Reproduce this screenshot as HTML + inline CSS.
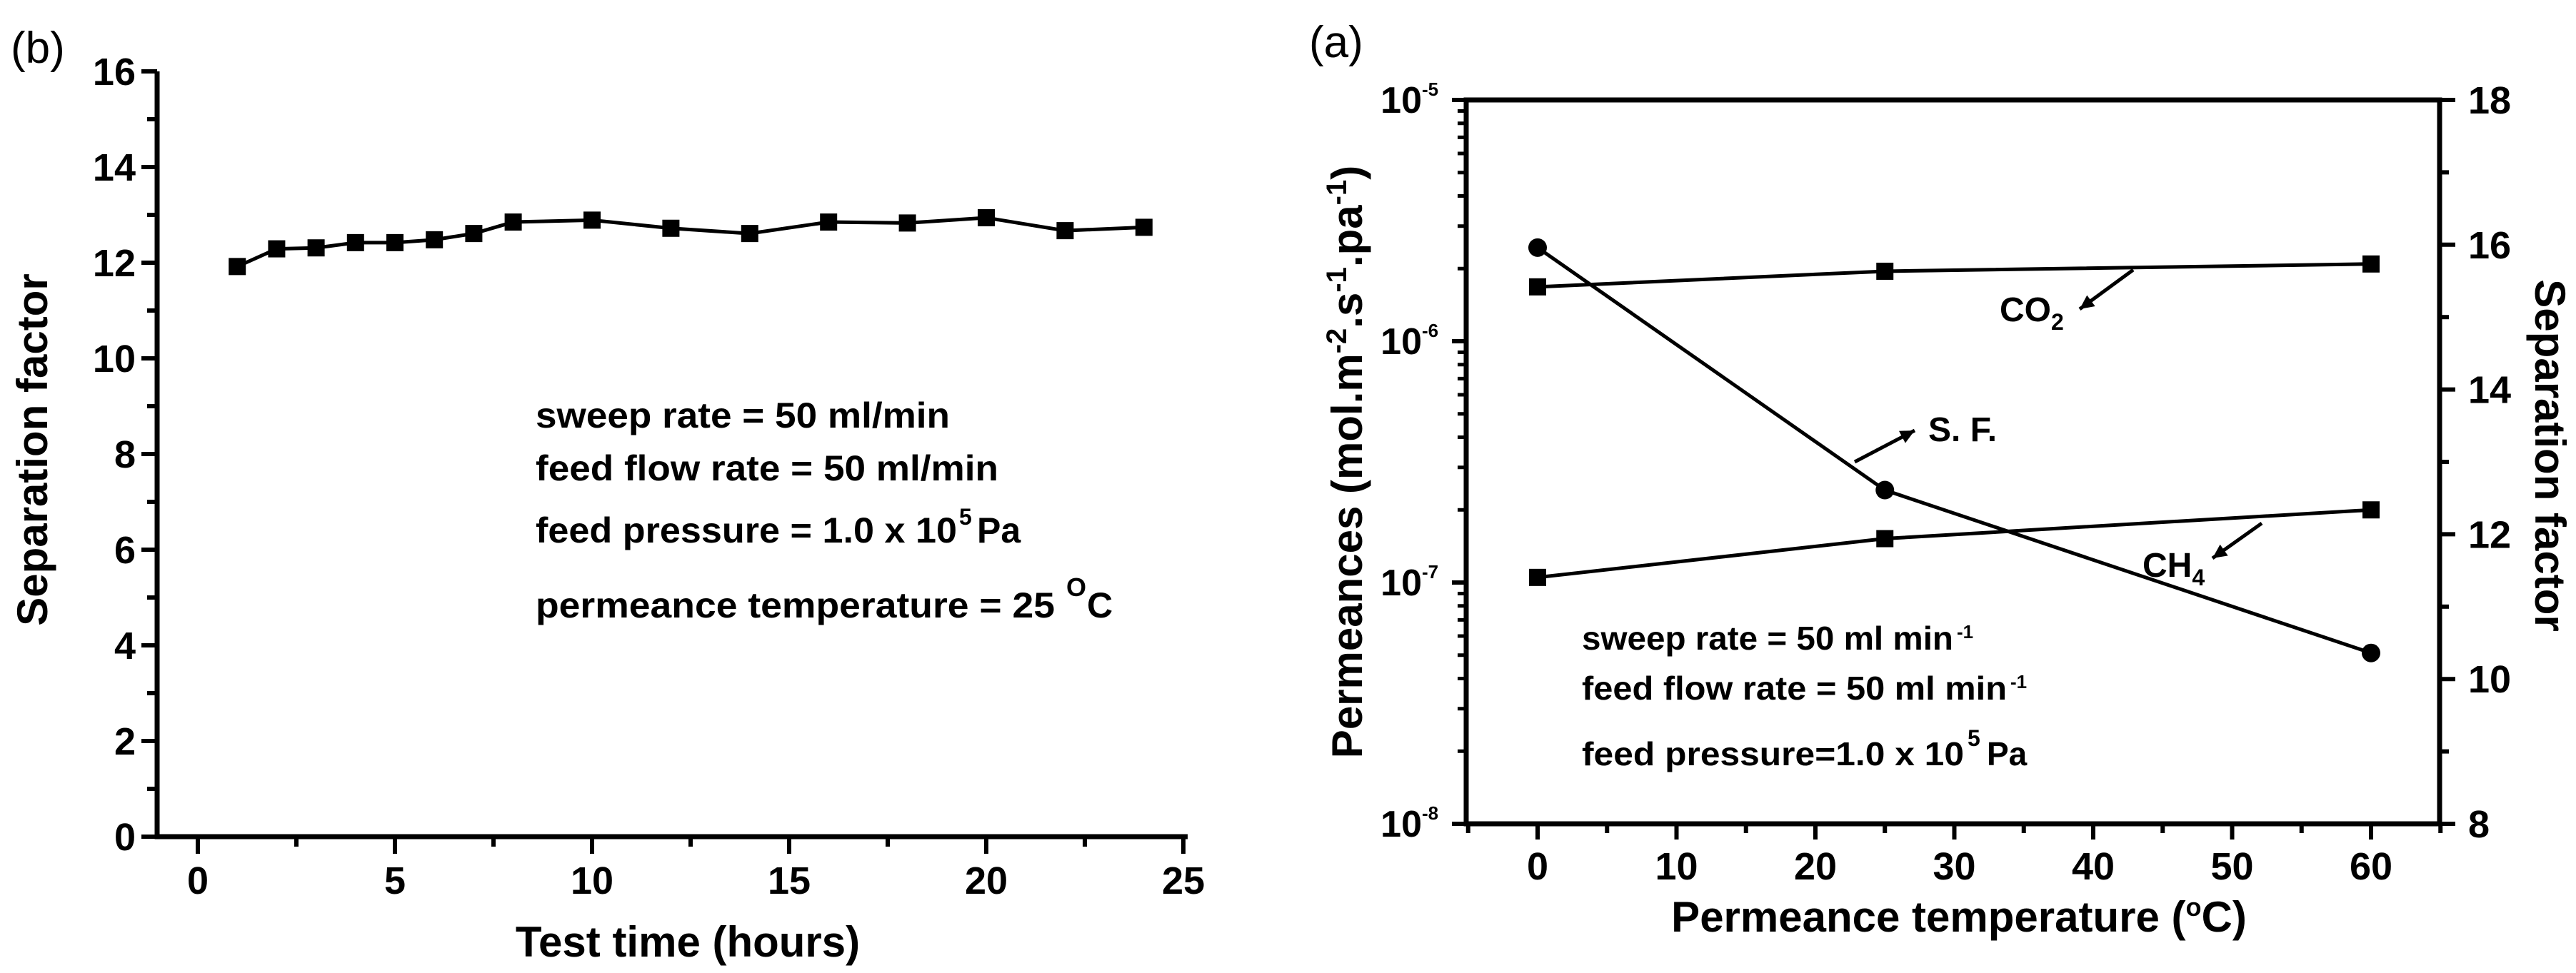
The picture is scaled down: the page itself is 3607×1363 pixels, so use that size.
<!DOCTYPE html>
<html><head><meta charset="utf-8"><style>
html,body{margin:0;padding:0;background:#fff;}
svg{display:block;}
text{font-family:"Liberation Sans",Arial,sans-serif;fill:#000;}
.b{font-weight:bold;}
</style></head><body>
<svg id="chart" width="3607" height="1363" viewBox="0 0 3607 1363" xmlns="http://www.w3.org/2000/svg">
<g id="left"></g>
<g id="right"></g>
</svg>
<script>
// ---- Panel (b) data ----
const timeHours = [1,2,3,4,5,6,7,8,10,12,14,16,18,20,22,24];
const sepFactorB = [11.92,12.29,12.31,12.42,12.42,12.48,12.61,12.85,12.89,12.72,12.61,12.85,12.83,12.94,12.67,12.74];
const xTicksB = [0,5,10,15,20,25];
const yTicksB = [0,2,4,6,8,10,12,14,16];
// ---- Panel (a) data ----
const tempC = [0,25,60];
const co2Perm = [1.68e-6,1.95e-6,2.09e-6];
const ch4Perm = [1.05e-7,1.52e-7,2.0e-7];
const sepFactorA = [15.96,12.61,10.36];
const xTicksA = [0,10,20,30,40,50,60];
const logTicksA = [-5,-6,-7,-8];
const rTicksA = [8,10,12,14,16,18];

const NS="http://www.w3.org/2000/svg";
function mk(parent,tag,attrs,txt){const e=document.createElementNS(NS,tag);for(const k in attrs)e.setAttribute(k,attrs[k]);if(txt!==undefined)e.textContent=txt;parent.appendChild(e);return e;}

// ===== Panel (b) =====
const L=document.getElementById('left');
const bx0=220,bx1=1663,by0=1172,by1=100;
const xB=v=>277+(v-0)*55.2;
const yB=v=>by0-(v-0)*(by0-by1)/16;
let e;
e=mk(L,'text',{x:15,y:88,'font-size':62});
e.textContent='(b)';


e=mk(L,'path',{d:`M${bx0} ${by1} V${by0} H${bx1}`,stroke:'#000','stroke-width':7,fill:'none'});


yTicksB.forEach(v=>{
  mk(L,'line',{x1:bx0-22,x2:bx0,y1:yB(v),y2:yB(v),stroke:'#000','stroke-width':6});
  if(v<16) mk(L,'line',{x1:bx0-14,x2:bx0,y1:yB(v+1),y2:yB(v+1),stroke:'#000','stroke-width':6});
  e=mk(L,'text',{x:bx0-30,y:yB(v)+19,'font-size':54,'text-anchor':'end',class:'b'},String(v));
  
  
});
xTicksB.forEach(v=>{
  mk(L,'line',{x1:xB(v),x2:xB(v),y1:by0,y2:by0+24,stroke:'#000','stroke-width':6});
  if(v<25) mk(L,'line',{x1:xB(v+2.5),x2:xB(v+2.5),y1:by0,y2:by0+14,stroke:'#000','stroke-width':6});
  e=mk(L,'text',{x:xB(v),y:by0+80,'font-size':54,'text-anchor':'middle',class:'b'},String(v));
  
  
});
e=mk(L,'text',{x:963,y:1340,'font-size':60,'text-anchor':'middle',class:'b'},'Test time (hours)');


e=mk(L,'text',{x:0,y:0,'font-size':60,'text-anchor':'middle',class:'b',transform:'translate(66,630) rotate(-90)'},'Separation factor');


e=mk(L,'polyline',{points:timeHours.map((t,i)=>xB(t)+','+yB(sepFactorB[i])).join(' '),fill:'none',stroke:'#000','stroke-width':5});


timeHours.forEach((t,i)=>{
  e=mk(L,'rect',{x:xB(t)-12,y:yB(sepFactorB[i])-12,width:24,height:24,fill:'#000'});
  
  
});
const notesB=[['sweep rate = 50 ml/min',599,580],['feed flow rate = 50 ml/min',673,648],['feed pressure = 1.0 x 10',760,590],['permeance temperature = 25',865,727]];
notesB.forEach(n=>{
  e=mk(L,'text',{x:750,y:n[1],'font-size':50,class:'b','textLength':n[2],lengthAdjust:'spacingAndGlyphs'},n[0]);
  
  
});
mk(L,'text',{x:1343,y:735,'font-size':32,class:'b'},'5');
mk(L,'text',{x:1368,y:760,'font-size':50,class:'b'},'Pa');
mk(L,'text',{x:1493,y:835,'font-size':36,class:'b'},'O');
mk(L,'text',{x:1522,y:865,'font-size':50,class:'b'},'C');

// ===== Panel (a) =====
const R=document.getElementById('right');
const ax0=2053,ax1=3416,ay0=1154,ay1=140;
const xA=v=>2153+v*19.45;
const yLog=v=>ay1+(-5-Math.log10(v))*(ay0-ay1)/3;
const yLogE=ex=>ay1+(-5-ex)*(ay0-ay1)/3;
const yR=v=>ay0-(v-8)*(ay0-ay1)/10;
e=mk(R,'text',{x:1833,y:80,'font-size':62},'(a)');


e=mk(R,'rect',{x:ax0,y:ay1,width:ax1-ax0,height:ay0-ay1,fill:'none',stroke:'#000','stroke-width':7});


logTicksA.forEach(ex=>{
  mk(R,'line',{x1:ax0-20,x2:ax0,y1:yLogE(ex),y2:yLogE(ex),stroke:'#000','stroke-width':6});
  if(ex>-8){for(let m=2;m<=9;m++){const yy=yLogE(ex-1)-Math.log10(m)*(ay0-ay1)/3;mk(R,'line',{x1:ax0-12,x2:ax0,y1:yy,y2:yy,stroke:'#000','stroke-width':5});}}
  e=mk(R,'text',{x:ax0-62,y:yLogE(ex)+18,'font-size':52,'text-anchor':'end',class:'b'},'10');
  
  
  mk(R,'text',{x:ax0-62,y:yLogE(ex)-6,'font-size':26,class:'b'},String(ex));
});
rTicksA.forEach(v=>{
  mk(R,'line',{x1:ax1,x2:ax1+22,y1:yR(v),y2:yR(v),stroke:'#000','stroke-width':6});
  if(v<18) mk(R,'line',{x1:ax1,x2:ax1+13,y1:yR(v+1),y2:yR(v+1),stroke:'#000','stroke-width':6});
  e=mk(R,'text',{x:ax1+40,y:yR(v)+19,'font-size':54,class:'b'},String(v));
  
  
});
xTicksA.forEach(v=>{
  mk(R,'line',{x1:xA(v),x2:xA(v),y1:ay0,y2:ay0+22,stroke:'#000','stroke-width':6});
  mk(R,'line',{x1:xA(v-5),x2:xA(v-5),y1:ay0,y2:ay0+13,stroke:'#000','stroke-width':6});
  e=mk(R,'text',{x:xA(v),y:ay0+78,'font-size':54,'text-anchor':'middle',class:'b'},String(v));
  
  
});
mk(R,'line',{x1:xA(65),x2:xA(65),y1:ay0,y2:ay0+13,stroke:'#000','stroke-width':6});
e=mk(R,'text',{x:2743,y:1305,'font-size':60,'text-anchor':'middle',class:'b'});


e.innerHTML='Permeance temperature (<tspan font-size="36" dy="-22">o</tspan><tspan dy="22">C)</tspan>';
e=mk(R,'text',{x:0,y:0,'font-size':60,'text-anchor':'middle',class:'b',transform:'translate(1907,647) rotate(-90)'});


e.innerHTML='Permeances (mol.m<tspan font-size="40" dy="-22">-2</tspan><tspan dy="22">.s</tspan><tspan font-size="40" dy="-22">-1</tspan><tspan dy="22">.pa</tspan><tspan font-size="40" dy="-22">-1</tspan><tspan dy="22">)</tspan>';
e=mk(R,'text',{x:0,y:0,'font-size':60,'text-anchor':'middle',class:'b',transform:'translate(3550,638) rotate(90)'},'Separation factor');


function series(vals,yf,name,shape){
  const el=mk(R,'polyline',{points:tempC.map((t,i)=>xA(t)+','+yf(vals[i])).join(' '),fill:'none',stroke:'#000','stroke-width':5});
  
  
  tempC.forEach((t,i)=>{
    let m;
    if(shape==='sq') m=mk(R,'rect',{x:xA(t)-12,y:yf(vals[i])-12,width:24,height:24,fill:'#000'});
    else m=mk(R,'circle',{cx:xA(t),cy:yf(vals[i]),r:13,fill:'#000'});
    
    
  });
}
series(co2Perm,yLog,'co2-permeance','sq');
series(ch4Perm,yLog,'ch4-permeance','sq');
series(sepFactorA,yR,'separation-factor-a','ci');
function arrow(x1,y1,x2,y2,name){
  const el=mk(R,'line',{x1,y1,x2,y2,stroke:'#000','stroke-width':5});
  
  
  const a=Math.atan2(y2-y1,x2-x1),s=22;
  mk(R,'polygon',{points:`${x2},${y2} ${x2-s*Math.cos(a-0.45)},${y2-s*Math.sin(a-0.45)} ${x2-s*Math.cos(a+0.45)},${y2-s*Math.sin(a+0.45)}`,fill:'#000'});
}
arrow(2987,378,2912,433,'co2-arrow');
arrow(2597,647,2681,603,'sf-arrow');
arrow(3167,733,3098,782,'ch4-arrow');
e=mk(R,'text',{x:2800,y:450,'font-size':48,class:'b'});


e.innerHTML='CO<tspan font-size="32" dy="12">2</tspan>';
e=mk(R,'text',{x:2700,y:618,'font-size':48,class:'b'},'S. F.');


e=mk(R,'text',{x:3000,y:808,'font-size':48,class:'b'});


e.innerHTML='CH<tspan font-size="32" dy="12">4</tspan>';
const notesA=[['sweep rate = 50 ml min',910,520],['feed flow rate = 50 ml min',980,595],['feed pressure=1.0 x 10',1072,535]];
notesA.forEach(n=>{
  e=mk(R,'text',{x:2215,y:n[1],'font-size':46,class:'b',textLength:n[2],lengthAdjust:'spacingAndGlyphs'},n[0]);
  
  
});
mk(R,'text',{x:2740,y:894,'font-size':26,class:'b'},'-1');
mk(R,'text',{x:2815,y:964,'font-size':26,class:'b'},'-1');
mk(R,'text',{x:2755,y:1045,'font-size':32,class:'b'},'5');
mk(R,'text',{x:2782,y:1072,'font-size':46,class:'b'},'Pa');
</script>
</body></html>
